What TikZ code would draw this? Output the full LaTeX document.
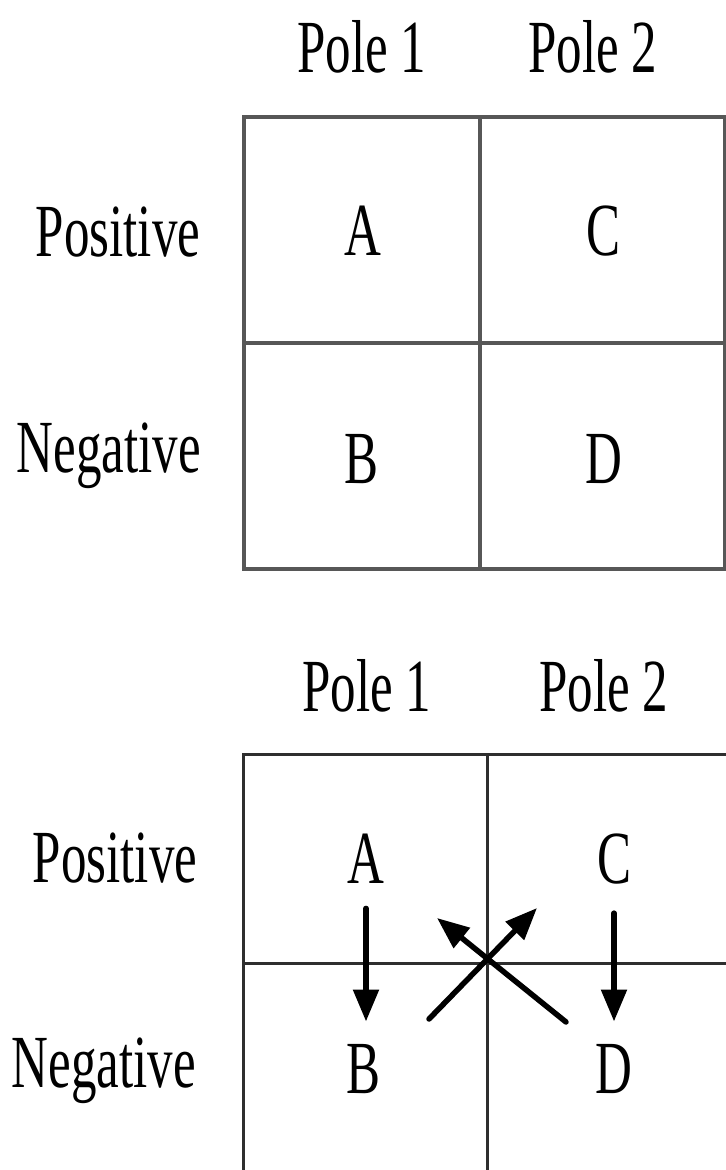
\documentclass[tikz,border=0pt]{standalone}
\usepackage{fontspec}
\newfontfamily\narrowserif{Liberation Serif}[FakeStretch=0.68]
\usepackage{tikz}
\usetikzlibrary{arrows.meta,positioning,calc}
\definecolor{gridtop}{HTML}{575757}
\definecolor{gridbot}{HTML}{2E2E2E}

\begin{document}
\begin{tikzpicture}[x=0.5pt,y=-0.5pt,
  lbl/.style={font=\narrowserif\fontsize{37.5}{40}\selectfont,inner sep=0pt,anchor=base},
  gridA/.style={draw=gridtop,line width=2pt},
  gridB/.style={draw=gridbot,line width=1.5pt},
  flow/.style={-{Triangle[length=16pt,width=12.5pt]},line width=2.75pt,line cap=round}]
 \useasboundingbox (0,0) rectangle (726,1170);

 % ---- upper table ----
 \draw[gridA] (244,117) rectangle (725,569);
 \draw[gridA] (480,117) -- (480,569);
 \draw[gridA] (244,343) -- (725,343);
 \node[lbl] (p1a) at (362,73) {Pole 1};
 \node[lbl] (p2a) at (593,73) {Pole 2};
 \node[lbl] (posa) at (118,257) {Positive};
 \node[lbl] (nega) at (109,472) {Negative};
 \node[lbl] (Aa) at (363,256) {A};
 \node[lbl] (Ca) at (603,256) {C};
 \node[lbl] (Ba) at (362,483) {B};
 \node[lbl] (Da) at (604,483) {D};

 % ---- lower table, open to the right and below ----
 \draw[gridB] (726,754) -- (243,754) -- (243,1170);
 \draw[gridB] (487,754) -- (487,1170);
 \draw[gridB] (243,963) -- (726,963);
 \node[lbl] (p1b) at (367,711) {Pole 1};
 \node[lbl] (p2b) at (604,711) {Pole 2};
 \node[lbl] (posb) at (115,882) {Positive};
 \node[lbl] (negb) at (104,1087) {Negative};
 \node[lbl] (A) at (366,883) {A};
 \node[lbl] (C) at (614,883) {C};
 \node[lbl] (B) at (364,1093) {B};
 \node[lbl] (D) at (614,1093) {D};

 % ---- moves ----
 \draw[flow,shorten <=12.5pt,shorten >=11pt] (A.south) -- (A.south |- B.north);
 \draw[flow,shorten <=14.5pt,shorten >=11pt] (C.south) -- (C.south |- D.north);
 \coordinate (bl) at (429,1019);
 \coordinate (tr) at (537,908);
 \coordinate (br) at (566,1022);
 \coordinate (tl) at (437,918);
 \draw[flow] (bl) -- (tr);
 \draw[flow] (br) -- (tl);
\end{tikzpicture}
\end{document}
